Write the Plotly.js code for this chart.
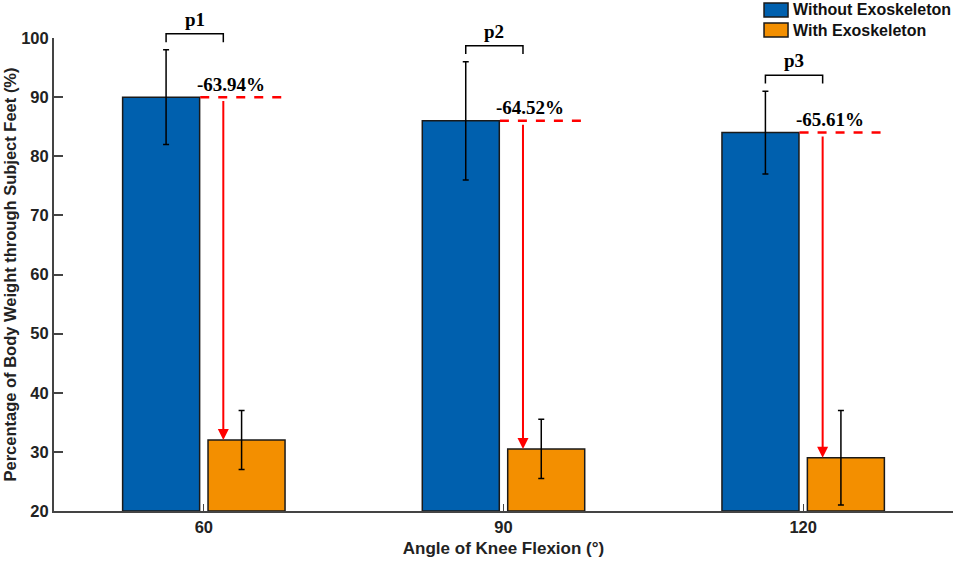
<!doctype html>
<html>
<head>
    <meta charset="utf-8">
    <title>Body weight through feet</title>
    <style>
        body {margin: 0; background: #fff;}
    </style>
    <script src="https://cdn.plot.ly/plotly-3.0.1.min.js"></script>
</head>
<body>
    <div id="chart" style="width:957px;height:562px;"></div>
    <script>
        // ====== DATA ==================================================
        let angles = ['60', '90', '120'];
        let seriesNames = ['Without Exoskeleton', 'With Exoskeleton'];
        let withoutExo = [90, 86, 84];
        let withoutErr = [8, 10, 7];
        let withExo = [32, 30.5, 29];
        let withErr = [5, 5, 8];
        let reductionLabels = ['-63.94%', '-64.52%', '-65.61%'];
        let pLabels = ['p1', 'p2', 'p3'];

        // ====== SETTINGS ==============================================
        let blue = '#0060AE';
        let orange = '#F38F00';
        let red = '#FF0000';
        let colors = [blue, orange];
        let barW = 0.257;
        let errOff = 0.126;
        let arrowOff = 0.065;
        let yMin = 20, yMax = 100;
        let serif = 'Liberation Serif, Times New Roman, serif';

        let pos = angles.map((a, i) => i + 1);
        let paperY = v => (v - yMin) / (yMax - yMin);

        let traces = [
            {
                type: 'bar', name: seriesNames[0],
                x: pos, y: withoutExo.map(v => v - yMin), base: yMin,
                width: barW, offset: -barW - 0.014,
                marker: {color: blue, line: {color: '#1a1a1a', width: 1.5}},
            },
            {
                type: 'bar', name: seriesNames[1],
                x: pos, y: withExo.map(v => v - yMin), base: yMin,
                width: barW, offset: 0.014,
                marker: {color: orange, line: {color: '#1a1a1a', width: 1.5}},
            },
            {
                type: 'scatter', mode: 'markers',
                x: pos.map(p => p - errOff), y: withoutExo,
                marker: {size: 1, color: 'rgba(0,0,0,0)'},
                error_y: {type: 'data', array: withoutErr, color: '#000', thickness: 1.5, width: 3},
            },
            {
                type: 'scatter', mode: 'markers',
                x: pos.map(p => p + errOff), y: withExo,
                marker: {size: 1, color: 'rgba(0,0,0,0)'},
                error_y: {type: 'data', array: withErr, color: '#000', thickness: 1.5, width: 3},
            },
        ];

        let shapes = [];
        let annotations = [];
        pos.forEach((p, i) => {
            // dashed reference line at the blue bar height
            shapes.push({
                type: 'line', xref: 'x', yref: 'y',
                x0: p - 0.012, x1: p + 0.284, y0: withoutExo[i], y1: withoutExo[i],
                line: {color: red, width: 2.5, dash: 'dash'},
            });
            // red arrow down to the orange bar
            annotations.push({
                xref: 'x', yref: 'y', axref: 'x', ayref: 'y',
                x: p + arrowOff, y: withExo[i],
                ax: p + arrowOff, ay: withoutExo[i] - 0.4,
                text: '', showarrow: true,
                arrowhead: 2, arrowsize: 1.1, arrowwidth: 2, arrowcolor: red,
            });
            annotations.push({
                xref: 'x', yref: 'y', x: p + 0.09, y: withoutExo[i] + 0.1,
                yanchor: 'bottom', showarrow: false,
                text: '<b>' + reductionLabels[i] + '</b>',
                font: {family: serif, size: 19, color: '#000'},
            });
            // significance bracket
            let top = withoutExo[i] + withoutErr[i];
            let b0 = paperY(top + 1.3);
            let b1 = paperY(top + 2.7);
            let xl = p - errOff, xr = p + arrowOff;
            shapes.push({
                type: 'path', xref: 'x', yref: 'paper',
                path: `M ${xl},${b0} L ${xl},${b1} L ${xr},${b1} L ${xr},${b0}`,
                line: {color: '#000', width: 1.5},
            });
            annotations.push({
                xref: 'x', yref: 'paper', x: (xl + xr) / 2, y: b1 + 0.004,
                yanchor: 'bottom', showarrow: false,
                text: '<b>' + pLabels[i] + '</b>',
                font: {family: serif, size: 19, color: '#000'},
            });
        });

        // legend boxes in the top-right corner
        let legY = [[1.0444, 1.074], [1.0021, 1.0317]];
        seriesNames.forEach((name, k) => {
            shapes.push({
                type: 'rect', xref: 'paper', yref: 'paper',
                x0: 0.7898, x1: 0.8165, y0: legY[k][0], y1: legY[k][1],
                fillcolor: colors[k], line: {color: '#1a1a1a', width: 1.5},
            });
            annotations.push({
                xref: 'paper', yref: 'paper', x: 0.8195, y: (legY[k][0] + legY[k][1]) / 2,
                xanchor: 'left', yanchor: 'middle', showarrow: false,
                text: '<b>' + name + '</b>',
                font: {size: 16, color: '#111'},
            });
        });

        let layout = {
            width: 957,
            height: 562,
            margin: {l: 54, r: 4, t: 38, b: 51},
            paper_bgcolor: '#fff',
            plot_bgcolor: '#fff',
            barmode: 'overlay',
            hovermode: false,
            showlegend: false,
            font: {family: 'Liberation Sans, Arial, sans-serif', color: '#222'},
            xaxis: {
                range: [0.5, 3.5],
                tickmode: 'array', tickvals: pos, ticktext: angles,
                ticks: 'inside', ticklen: 7, tickcolor: '#444', tickwidth: 1,
                showline: true, linecolor: '#444', linewidth: 2,
                showgrid: false, zeroline: false,
                tickfont: {size: 16.5, color: '#222', weight: 'bold'},
                title: {text: '<b>Angle of Knee Flexion (°)</b>', font: {size: 17, color: '#222'}, standoff: 7},
            },
            yaxis: {
                range: [yMin, yMax],
                tickmode: 'linear', tick0: 20, dtick: 10,
                ticks: 'inside', ticklen: 9, tickcolor: '#444', tickwidth: 2,
                showline: true, linecolor: '#444', linewidth: 2,
                showgrid: false, zeroline: false,
                tickfont: {size: 16.5, color: '#222', weight: 'bold'},
                title: {text: '<b>Percentage of Body Weight through Subject Feet (%)</b>', font: {size: 16.5, color: '#222'}, standoff: 0},
            },
            shapes: shapes,
            annotations: annotations,
        };

        Plotly.newPlot('chart', traces, layout, {displayModeBar: false, staticPlot: true});
    </script>
</body>
</html>
